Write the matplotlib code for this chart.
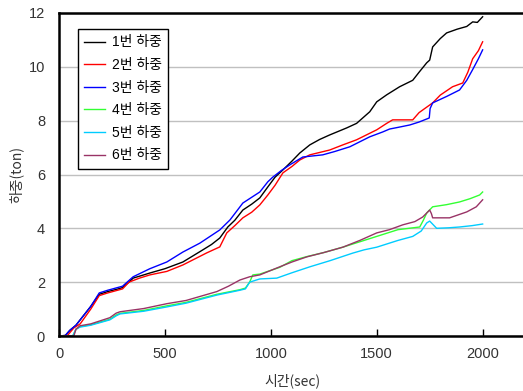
import matplotlib.pyplot as plt

plt.rcParams['font.family'] = ['Liberation Sans', 'Noto Sans CJK KR', 'DejaVu Sans']

# time (sec) and load (ton)
t1 = [0, 30, 50, 80, 100, 150, 190, 230, 280, 300, 330, 350, 429, 500, 585, 679, 720, 759, 797, 830, 868, 910, 948, 986, 1020, 1057, 1100, 1137, 1184, 1230, 1278, 1358, 1405, 1467, 1500, 1547, 1608, 1670, 1700, 1736, 1750, 1764, 1800, 1830, 1880, 1925, 1953, 1975, 2000]
y1 = [0, 0.02, 0.2, 0.4, 0.6, 1.1, 1.55, 1.65, 1.75, 1.8, 2.0, 2.15, 2.34, 2.5, 2.75, 3.2, 3.4, 3.64, 4.05, 4.3, 4.68, 4.9, 5.13, 5.54, 5.9, 6.17, 6.5, 6.8, 7.1, 7.3, 7.47, 7.73, 7.9, 8.33, 8.7, 8.96, 9.26, 9.5, 9.8, 10.15, 10.25, 10.74, 11.05, 11.26, 11.4, 11.5, 11.67, 11.65, 11.86]

t2 = [0, 40, 70, 100, 150, 190, 230, 300, 330, 380, 429, 509, 585, 698, 759, 792, 830, 868, 910, 948, 986, 1020, 1057, 1100, 1137, 1184, 1278, 1340, 1405, 1500, 1547, 1575, 1620, 1670, 1700, 1764, 1800, 1858, 1906, 1930, 1953, 1980, 2000]
y2 = [0, 0.02, 0.3, 0.45, 1.0, 1.5, 1.6, 1.75, 2.0, 2.15, 2.27, 2.4, 2.64, 3.09, 3.31, 3.83, 4.1, 4.39, 4.6, 4.87, 5.24, 5.6, 6.06, 6.3, 6.54, 6.73, 6.91, 7.1, 7.29, 7.66, 7.9, 8.03, 8.03, 8.03, 8.3, 8.66, 8.95, 9.26, 9.4, 9.8, 10.3, 10.6, 10.93]

t3 = [0, 30, 52, 80, 100, 150, 190, 230, 300, 350, 429, 509, 585, 665, 759, 807, 868, 948, 986, 1009, 1050, 1090, 1151, 1245, 1300, 1373, 1467, 1528, 1561, 1600, 1656, 1700, 1748, 1752, 1764, 1830, 1891, 1925, 1953, 1980, 2000]
y3 = [0, 0.02, 0.22, 0.4, 0.6, 1.1, 1.6, 1.7, 1.85, 2.2, 2.5, 2.75, 3.12, 3.45, 3.94, 4.31, 4.94, 5.35, 5.73, 5.9, 6.15, 6.36, 6.65, 6.73, 6.85, 7.03, 7.4, 7.58, 7.69, 7.75, 7.84, 7.95, 8.1, 8.45, 8.66, 8.9, 9.14, 9.5, 9.9, 10.3, 10.63]

t4 = [0, 65, 80, 99, 150, 240, 270, 288, 400, 509, 600, 745, 854, 880, 900, 915, 948, 1042, 1100, 1170, 1250, 1340, 1420, 1500, 1600, 1703, 1720, 1736, 1764, 1830, 1891, 1940, 1986, 2000]
y4 = [0, 0.0, 0.25, 0.35, 0.42, 0.62, 0.78, 0.84, 0.95, 1.12, 1.25, 1.55, 1.72, 1.78, 2.0, 2.27, 2.3, 2.55, 2.8, 2.95, 3.1, 3.3, 3.5, 3.7, 3.95, 4.05, 4.3, 4.57, 4.8, 4.88, 4.98, 5.1, 5.24, 5.35]

t5 = [0, 65, 80, 99, 150, 240, 270, 288, 400, 509, 600, 745, 854, 880, 900, 948, 1028, 1100, 1184, 1280, 1387, 1440, 1500, 1600, 1670, 1710, 1736, 1750, 1783, 1840, 1891, 1950, 2000]
y5 = [0, 0.0, 0.25, 0.33, 0.4, 0.6, 0.75, 0.82, 0.92, 1.08, 1.22, 1.52, 1.7, 1.75, 2.0, 2.12, 2.15, 2.35, 2.57, 2.8, 3.08, 3.2, 3.3, 3.55, 3.7, 3.9, 4.2, 4.27, 4.0, 4.02, 4.05, 4.1, 4.16]

t6 = [0, 70, 80, 99, 150, 240, 270, 288, 400, 509, 600, 745, 800, 854, 900, 948, 1042, 1100, 1170, 1250, 1340, 1420, 1500, 1560, 1623, 1680, 1717, 1750, 1758, 1764, 1844, 1925, 1970, 2000]
y6 = [0, 0.0, 0.25, 0.38, 0.45, 0.68, 0.85, 0.9, 1.02, 1.2, 1.32, 1.65, 1.85, 2.08, 2.2, 2.27, 2.57, 2.75, 2.94, 3.1, 3.3, 3.55, 3.83, 3.95, 4.13, 4.25, 4.42, 4.68, 4.55, 4.39, 4.39, 4.61, 4.8, 5.06]

series = [(t1, y1, '#000000', '1번 하중'),
          (t2, y2, '#ff0000', '2번 하중'),
          (t3, y3, '#0000ff', '3번 하중'),
          (t4, y4, '#33ff33', '4번 하중'),
          (t5, y5, '#00ccff', '5번 하중'),
          (t6, y6, '#993366', '6번 하중')]

fig = plt.figure(figsize=(5.23, 3.91), dpi=100)
ax = fig.add_axes([59/523, 55/391, 466/523, 323/391])

for t, y, c, lab in series:
  ax.plot(t, y, color=c, lw=1.0, label=lab)

ax.set_xlim(0, 2200)
ax.set_ylim(0, 12)
ax.set_xticks([0, 500, 1000, 1500, 2000])
ax.set_yticks([0, 2, 4, 6, 8, 10, 12])
ax.yaxis.grid(True, color='#c0c0c0', lw=1)
ax.set_axisbelow(True)
ax.tick_params(axis='x', direction='in', length=5, width=1, labelsize=10.5, labelcolor='#333333', pad=8)
ax.tick_params(axis='y', direction='in', length=0, labelsize=10.5, labelcolor='#333333', pad=10)
for s in ['left', 'bottom', 'top']:
  ax.spines[s].set_linewidth(1.8)
ax.spines['right'].set_visible(False)

ax.set_xlabel('시간(sec)', fontsize=10, color='#333333', family=['Noto Sans CJK KR', 'DejaVu Sans'], labelpad=9)
ax.set_ylabel('하중(ton)', fontsize=10, color='#333333', family=['Noto Sans CJK KR', 'DejaVu Sans'], labelpad=4)

leg = ax.legend(loc='upper left', bbox_to_anchor=(0.04, 0.95), borderaxespad=0,
                fancybox=False, framealpha=1, edgecolor='black', handlelength=1.5,
                handletextpad=0.5, labelspacing=0.62, borderpad=0.45,
                prop={'family': ['Liberation Sans', 'Noto Sans CJK KR'], 'size': 10})
leg.get_frame().set_linewidth(1.0)

fig.savefig('out.png', dpi=100)
